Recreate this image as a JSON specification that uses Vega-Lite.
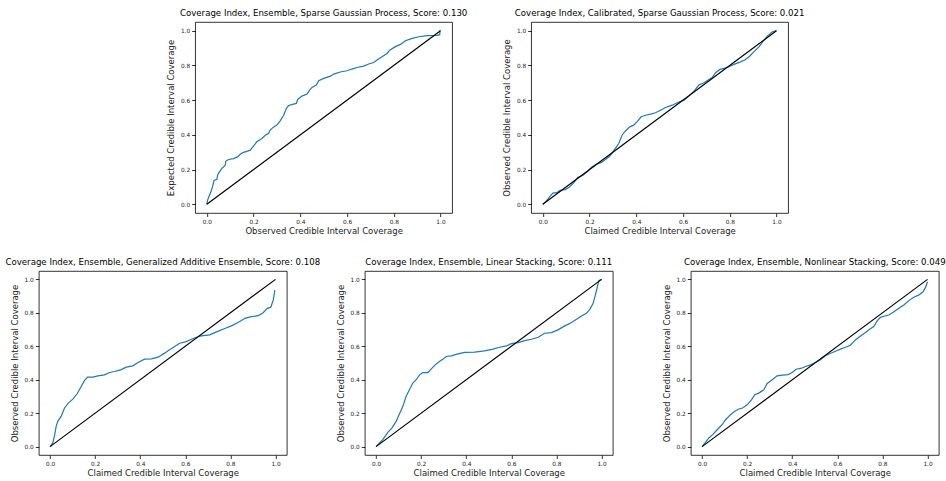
{
  "$schema": "https://vega.github.io/schema/vega-lite/v6.json",
  "padding": {"left": 4.5, "top": 9, "right": 0, "bottom": 0},
  "background": "white",
  "config": {
    "font": "DejaVu Sans",
    "view": {"stroke": "black", "strokeWidth": 0.8},
    "title": {"font": "DejaVu Sans", "fontSize": 8.6, "fontWeight": "normal", "color": "black", "offset": 4},
    "axis": {
      "grid": false, "domain": false, "tickColor": "black", "tickSize": 3.5, "tickWidth": 0.8, "labelOverlap": false,
      "labelFont": "DejaVu Sans", "labelFontSize": 5.8, "labelColor": "#222222", "labelPadding": 2,
      "titleFont": "DejaVu Sans", "titleFontSize": 8.5, "titleFontWeight": "normal", "titleColor": "#222222"
    },
    "axisX": {"titlePadding": 2},
    "axisY": {"titlePadding": 5}
  },
  "datasets": {
    "diag": [{"x": 0, "y": 0}, {"x": 1, "y": 1}],
    "curves": [
      {"p": 1, "x": 0, "y": 0}, {"p": 1, "x": 0.003, "y": 0.023}, {"p": 1, "x": 0.011, "y": 0.052}, {"p": 1, "x": 0.017, "y": 0.071}, {"p": 1, "x": 0.024, "y": 0.1}, {"p": 1, "x": 0.031, "y": 0.138}, {"p": 1, "x": 0.043, "y": 0.144}, {"p": 1, "x": 0.046, "y": 0.167}, {"p": 1, "x": 0.054, "y": 0.187}, {"p": 1, "x": 0.064, "y": 0.206}, {"p": 1, "x": 0.079, "y": 0.225}, {"p": 1, "x": 0.081, "y": 0.248}, {"p": 1, "x": 0.093, "y": 0.258}, {"p": 1, "x": 0.114, "y": 0.263}, {"p": 1, "x": 0.131, "y": 0.273}, {"p": 1, "x": 0.143, "y": 0.288}, {"p": 1, "x": 0.154, "y": 0.298}, {"p": 1, "x": 0.174, "y": 0.306}, {"p": 1, "x": 0.186, "y": 0.312}, {"p": 1, "x": 0.197, "y": 0.331}, {"p": 1, "x": 0.214, "y": 0.36}, {"p": 1, "x": 0.236, "y": 0.379}, {"p": 1, "x": 0.25, "y": 0.398}, {"p": 1, "x": 0.264, "y": 0.408}, {"p": 1, "x": 0.271, "y": 0.427}, {"p": 1, "x": 0.286, "y": 0.446}, {"p": 1, "x": 0.3, "y": 0.456}, {"p": 1, "x": 0.314, "y": 0.481}, {"p": 1, "x": 0.329, "y": 0.513}, {"p": 1, "x": 0.34, "y": 0.552}, {"p": 1, "x": 0.35, "y": 0.569}, {"p": 1, "x": 0.371, "y": 0.577}, {"p": 1, "x": 0.383, "y": 0.581}, {"p": 1, "x": 0.389, "y": 0.604}, {"p": 1, "x": 0.407, "y": 0.623}, {"p": 1, "x": 0.429, "y": 0.635}, {"p": 1, "x": 0.44, "y": 0.658}, {"p": 1, "x": 0.45, "y": 0.673}, {"p": 1, "x": 0.469, "y": 0.687}, {"p": 1, "x": 0.479, "y": 0.712}, {"p": 1, "x": 0.5, "y": 0.725}, {"p": 1, "x": 0.529, "y": 0.738}, {"p": 1, "x": 0.543, "y": 0.75}, {"p": 1, "x": 0.571, "y": 0.762}, {"p": 1, "x": 0.6, "y": 0.769}, {"p": 1, "x": 0.621, "y": 0.779}, {"p": 1, "x": 0.643, "y": 0.788}, {"p": 1, "x": 0.671, "y": 0.796}, {"p": 1, "x": 0.693, "y": 0.808}, {"p": 1, "x": 0.714, "y": 0.817}, {"p": 1, "x": 0.729, "y": 0.831}, {"p": 1, "x": 0.75, "y": 0.85}, {"p": 1, "x": 0.771, "y": 0.869}, {"p": 1, "x": 0.783, "y": 0.888}, {"p": 1, "x": 0.807, "y": 0.908}, {"p": 1, "x": 0.829, "y": 0.921}, {"p": 1, "x": 0.85, "y": 0.942}, {"p": 1, "x": 0.879, "y": 0.956}, {"p": 1, "x": 0.907, "y": 0.965}, {"p": 1, "x": 0.943, "y": 0.971}, {"p": 1, "x": 0.986, "y": 0.973}, {"p": 1, "x": 0.997, "y": 0.977}, {"p": 1, "x": 0.998, "y": 1.0}, {"p": 1, "x": 1, "y": 1},
      {"p": 2, "x": 0, "y": 0}, {"p": 2, "x": 0.017, "y": 0.023}, {"p": 2, "x": 0.031, "y": 0.046}, {"p": 2, "x": 0.043, "y": 0.065}, {"p": 2, "x": 0.06, "y": 0.067}, {"p": 2, "x": 0.074, "y": 0.081}, {"p": 2, "x": 0.096, "y": 0.085}, {"p": 2, "x": 0.114, "y": 0.1}, {"p": 2, "x": 0.132, "y": 0.123}, {"p": 2, "x": 0.149, "y": 0.154}, {"p": 2, "x": 0.172, "y": 0.167}, {"p": 2, "x": 0.189, "y": 0.187}, {"p": 2, "x": 0.21, "y": 0.215}, {"p": 2, "x": 0.229, "y": 0.231}, {"p": 2, "x": 0.249, "y": 0.24}, {"p": 2, "x": 0.268, "y": 0.258}, {"p": 2, "x": 0.286, "y": 0.277}, {"p": 2, "x": 0.3, "y": 0.302}, {"p": 2, "x": 0.315, "y": 0.331}, {"p": 2, "x": 0.325, "y": 0.35}, {"p": 2, "x": 0.339, "y": 0.398}, {"p": 2, "x": 0.353, "y": 0.421}, {"p": 2, "x": 0.372, "y": 0.446}, {"p": 2, "x": 0.389, "y": 0.456}, {"p": 2, "x": 0.403, "y": 0.475}, {"p": 2, "x": 0.421, "y": 0.504}, {"p": 2, "x": 0.439, "y": 0.513}, {"p": 2, "x": 0.461, "y": 0.519}, {"p": 2, "x": 0.482, "y": 0.527}, {"p": 2, "x": 0.504, "y": 0.542}, {"p": 2, "x": 0.525, "y": 0.558}, {"p": 2, "x": 0.554, "y": 0.571}, {"p": 2, "x": 0.575, "y": 0.585}, {"p": 2, "x": 0.604, "y": 0.6}, {"p": 2, "x": 0.625, "y": 0.623}, {"p": 2, "x": 0.647, "y": 0.652}, {"p": 2, "x": 0.668, "y": 0.687}, {"p": 2, "x": 0.69, "y": 0.7}, {"p": 2, "x": 0.711, "y": 0.719}, {"p": 2, "x": 0.725, "y": 0.731}, {"p": 2, "x": 0.74, "y": 0.758}, {"p": 2, "x": 0.758, "y": 0.777}, {"p": 2, "x": 0.775, "y": 0.783}, {"p": 2, "x": 0.797, "y": 0.792}, {"p": 2, "x": 0.818, "y": 0.806}, {"p": 2, "x": 0.844, "y": 0.819}, {"p": 2, "x": 0.864, "y": 0.831}, {"p": 2, "x": 0.883, "y": 0.85}, {"p": 2, "x": 0.904, "y": 0.879}, {"p": 2, "x": 0.926, "y": 0.908}, {"p": 2, "x": 0.944, "y": 0.942}, {"p": 2, "x": 0.961, "y": 0.969}, {"p": 2, "x": 0.983, "y": 0.994}, {"p": 2, "x": 1, "y": 1},
      {"p": 3, "x": 0, "y": 0}, {"p": 3, "x": 0.012, "y": 0.022}, {"p": 3, "x": 0.019, "y": 0.062}, {"p": 3, "x": 0.027, "y": 0.121}, {"p": 3, "x": 0.034, "y": 0.151}, {"p": 3, "x": 0.049, "y": 0.181}, {"p": 3, "x": 0.064, "y": 0.231}, {"p": 3, "x": 0.081, "y": 0.26}, {"p": 3, "x": 0.101, "y": 0.284}, {"p": 3, "x": 0.12, "y": 0.316}, {"p": 3, "x": 0.138, "y": 0.36}, {"p": 3, "x": 0.153, "y": 0.396}, {"p": 3, "x": 0.167, "y": 0.416}, {"p": 3, "x": 0.19, "y": 0.416}, {"p": 3, "x": 0.212, "y": 0.423}, {"p": 3, "x": 0.241, "y": 0.429}, {"p": 3, "x": 0.264, "y": 0.443}, {"p": 3, "x": 0.286, "y": 0.449}, {"p": 3, "x": 0.313, "y": 0.459}, {"p": 3, "x": 0.338, "y": 0.475}, {"p": 3, "x": 0.367, "y": 0.483}, {"p": 3, "x": 0.39, "y": 0.503}, {"p": 3, "x": 0.419, "y": 0.523}, {"p": 3, "x": 0.449, "y": 0.525}, {"p": 3, "x": 0.479, "y": 0.535}, {"p": 3, "x": 0.508, "y": 0.559}, {"p": 3, "x": 0.53, "y": 0.579}, {"p": 3, "x": 0.553, "y": 0.598}, {"p": 3, "x": 0.575, "y": 0.618}, {"p": 3, "x": 0.604, "y": 0.628}, {"p": 3, "x": 0.627, "y": 0.642}, {"p": 3, "x": 0.649, "y": 0.654}, {"p": 3, "x": 0.671, "y": 0.662}, {"p": 3, "x": 0.708, "y": 0.668}, {"p": 3, "x": 0.738, "y": 0.686}, {"p": 3, "x": 0.775, "y": 0.706}, {"p": 3, "x": 0.804, "y": 0.722}, {"p": 3, "x": 0.834, "y": 0.742}, {"p": 3, "x": 0.864, "y": 0.767}, {"p": 3, "x": 0.893, "y": 0.777}, {"p": 3, "x": 0.923, "y": 0.783}, {"p": 3, "x": 0.945, "y": 0.801}, {"p": 3, "x": 0.964, "y": 0.827}, {"p": 3, "x": 0.979, "y": 0.833}, {"p": 3, "x": 0.99, "y": 0.877}, {"p": 3, "x": 0.997, "y": 0.936},
      {"p": 4, "x": 0, "y": 0}, {"p": 4, "x": 0.015, "y": 0.022}, {"p": 4, "x": 0.03, "y": 0.042}, {"p": 4, "x": 0.052, "y": 0.085}, {"p": 4, "x": 0.07, "y": 0.111}, {"p": 4, "x": 0.089, "y": 0.151}, {"p": 4, "x": 0.104, "y": 0.197}, {"p": 4, "x": 0.119, "y": 0.241}, {"p": 4, "x": 0.133, "y": 0.3}, {"p": 4, "x": 0.148, "y": 0.34}, {"p": 4, "x": 0.163, "y": 0.38}, {"p": 4, "x": 0.178, "y": 0.4}, {"p": 4, "x": 0.193, "y": 0.429}, {"p": 4, "x": 0.207, "y": 0.443}, {"p": 4, "x": 0.23, "y": 0.443}, {"p": 4, "x": 0.244, "y": 0.463}, {"p": 4, "x": 0.262, "y": 0.489}, {"p": 4, "x": 0.281, "y": 0.509}, {"p": 4, "x": 0.296, "y": 0.523}, {"p": 4, "x": 0.311, "y": 0.539}, {"p": 4, "x": 0.333, "y": 0.543}, {"p": 4, "x": 0.363, "y": 0.555}, {"p": 4, "x": 0.393, "y": 0.563}, {"p": 4, "x": 0.437, "y": 0.565}, {"p": 4, "x": 0.481, "y": 0.573}, {"p": 4, "x": 0.519, "y": 0.583}, {"p": 4, "x": 0.548, "y": 0.594}, {"p": 4, "x": 0.578, "y": 0.602}, {"p": 4, "x": 0.6, "y": 0.616}, {"p": 4, "x": 0.63, "y": 0.622}, {"p": 4, "x": 0.659, "y": 0.634}, {"p": 4, "x": 0.689, "y": 0.642}, {"p": 4, "x": 0.719, "y": 0.654}, {"p": 4, "x": 0.748, "y": 0.678}, {"p": 4, "x": 0.778, "y": 0.682}, {"p": 4, "x": 0.807, "y": 0.698}, {"p": 4, "x": 0.837, "y": 0.722}, {"p": 4, "x": 0.867, "y": 0.742}, {"p": 4, "x": 0.889, "y": 0.761}, {"p": 4, "x": 0.911, "y": 0.781}, {"p": 4, "x": 0.933, "y": 0.797}, {"p": 4, "x": 0.948, "y": 0.821}, {"p": 4, "x": 0.963, "y": 0.857}, {"p": 4, "x": 0.978, "y": 0.936}, {"p": 4, "x": 0.988, "y": 0.992}, {"p": 4, "x": 1, "y": 1},
      {"p": 5, "x": 0, "y": 0}, {"p": 5, "x": 0.015, "y": 0.026}, {"p": 5, "x": 0.03, "y": 0.052}, {"p": 5, "x": 0.047, "y": 0.072}, {"p": 5, "x": 0.067, "y": 0.101}, {"p": 5, "x": 0.089, "y": 0.131}, {"p": 5, "x": 0.104, "y": 0.161}, {"p": 5, "x": 0.126, "y": 0.191}, {"p": 5, "x": 0.145, "y": 0.211}, {"p": 5, "x": 0.163, "y": 0.225}, {"p": 5, "x": 0.18, "y": 0.231}, {"p": 5, "x": 0.2, "y": 0.25}, {"p": 5, "x": 0.219, "y": 0.28}, {"p": 5, "x": 0.234, "y": 0.31}, {"p": 5, "x": 0.251, "y": 0.32}, {"p": 5, "x": 0.274, "y": 0.34}, {"p": 5, "x": 0.288, "y": 0.376}, {"p": 5, "x": 0.311, "y": 0.4}, {"p": 5, "x": 0.333, "y": 0.423}, {"p": 5, "x": 0.355, "y": 0.427}, {"p": 5, "x": 0.382, "y": 0.431}, {"p": 5, "x": 0.4, "y": 0.443}, {"p": 5, "x": 0.417, "y": 0.463}, {"p": 5, "x": 0.441, "y": 0.469}, {"p": 5, "x": 0.459, "y": 0.479}, {"p": 5, "x": 0.481, "y": 0.489}, {"p": 5, "x": 0.503, "y": 0.503}, {"p": 5, "x": 0.525, "y": 0.519}, {"p": 5, "x": 0.547, "y": 0.543}, {"p": 5, "x": 0.565, "y": 0.555}, {"p": 5, "x": 0.589, "y": 0.569}, {"p": 5, "x": 0.614, "y": 0.583}, {"p": 5, "x": 0.636, "y": 0.594}, {"p": 5, "x": 0.658, "y": 0.606}, {"p": 5, "x": 0.68, "y": 0.638}, {"p": 5, "x": 0.703, "y": 0.662}, {"p": 5, "x": 0.725, "y": 0.682}, {"p": 5, "x": 0.743, "y": 0.702}, {"p": 5, "x": 0.762, "y": 0.718}, {"p": 5, "x": 0.777, "y": 0.753}, {"p": 5, "x": 0.791, "y": 0.773}, {"p": 5, "x": 0.811, "y": 0.781}, {"p": 5, "x": 0.828, "y": 0.787}, {"p": 5, "x": 0.851, "y": 0.807}, {"p": 5, "x": 0.873, "y": 0.827}, {"p": 5, "x": 0.895, "y": 0.847}, {"p": 5, "x": 0.917, "y": 0.873}, {"p": 5, "x": 0.939, "y": 0.893}, {"p": 5, "x": 0.962, "y": 0.907}, {"p": 5, "x": 0.98, "y": 0.926}, {"p": 5, "x": 0.991, "y": 0.952}, {"p": 5, "x": 1, "y": 0.986}
    ]
  },
  "vconcat": [
    {
      "hconcat": [
        {
          "width": 257, "height": 191,
          "title": "Coverage Index, Ensemble, Sparse Gaussian Process, Score: 0.130",
          "encoding": {
            "x": {"field": "x", "type": "quantitative", "scale": {"domain": [-0.05, 1.05], "nice": false, "zero": false}, "axis": {"values": [0, 0.2, 0.4, 0.6, 0.8, 1], "format": ".1f", "title": "Observed Credible Interval Coverage"}},
            "y": {"field": "y", "type": "quantitative", "scale": {"domain": [-0.05, 1.05], "nice": false, "zero": false}, "axis": {"values": [0, 0.2, 0.4, 0.6, 0.8, 1], "format": ".1f", "title": "Expected Credible Interval Coverage"}}
          },
          "layer": [
            {"data": {"name": "curves"}, "transform": [{"filter": "datum.p == 1"}], "mark": {"type": "line", "color": "#1f77b4", "strokeWidth": 1.2}},
            {"data": {"name": "diag"}, "mark": {"type": "line", "color": "black", "strokeWidth": 1.2}}
          ]
        },
        {
          "width": 257, "height": 191,
          "title": "Coverage Index, Calibrated, Sparse Gaussian Process, Score: 0.021",
          "encoding": {
            "x": {"field": "x", "type": "quantitative", "scale": {"domain": [-0.05, 1.05], "nice": false, "zero": false}, "axis": {"values": [0, 0.2, 0.4, 0.6, 0.8, 1], "format": ".1f", "title": "Claimed Credible Interval Coverage"}},
            "y": {"field": "y", "type": "quantitative", "scale": {"domain": [-0.05, 1.05], "nice": false, "zero": false}, "axis": {"values": [0, 0.2, 0.4, 0.6, 0.8, 1], "format": ".1f", "title": "Observed Credible Interval Coverage"}}
          },
          "layer": [
            {"data": {"name": "curves"}, "transform": [{"filter": "datum.p == 2"}], "mark": {"type": "line", "color": "#1f77b4", "strokeWidth": 1.2}},
            {"data": {"name": "diag"}, "mark": {"type": "line", "color": "black", "strokeWidth": 1.2}}
          ]
        }
      ],
      "spacing": 79,
      "bounds": "flush"
    },
    {
      "hconcat": [
        {
          "width": 248, "height": 184,
          "title": "Coverage Index, Ensemble, Generalized Additive Ensemble, Score: 0.108",
          "encoding": {
            "x": {"field": "x", "type": "quantitative", "scale": {"domain": [-0.05, 1.05], "nice": false, "zero": false}, "axis": {"values": [0, 0.2, 0.4, 0.6, 0.8, 1], "format": ".1f", "title": "Claimed Credible Interval Coverage"}},
            "y": {"field": "y", "type": "quantitative", "scale": {"domain": [-0.05, 1.05], "nice": false, "zero": false}, "axis": {"values": [0, 0.2, 0.4, 0.6, 0.8, 1], "format": ".1f", "title": "Observed Credible Interval Coverage"}}
          },
          "layer": [
            {"data": {"name": "curves"}, "transform": [{"filter": "datum.p == 3"}], "mark": {"type": "line", "color": "#1f77b4", "strokeWidth": 1.2}},
            {"data": {"name": "diag"}, "mark": {"type": "line", "color": "black", "strokeWidth": 1.2}}
          ]
        },
        {
          "width": 248, "height": 184,
          "title": "Coverage Index, Ensemble, Linear Stacking, Score: 0.111",
          "encoding": {
            "x": {"field": "x", "type": "quantitative", "scale": {"domain": [-0.05, 1.05], "nice": false, "zero": false}, "axis": {"values": [0, 0.2, 0.4, 0.6, 0.8, 1], "format": ".1f", "title": "Claimed Credible Interval Coverage"}},
            "y": {"field": "y", "type": "quantitative", "scale": {"domain": [-0.05, 1.05], "nice": false, "zero": false}, "axis": {"values": [0, 0.2, 0.4, 0.6, 0.8, 1], "format": ".1f", "title": "Observed Credible Interval Coverage"}}
          },
          "layer": [
            {"data": {"name": "curves"}, "transform": [{"filter": "datum.p == 4"}], "mark": {"type": "line", "color": "#1f77b4", "strokeWidth": 1.2}},
            {"data": {"name": "diag"}, "mark": {"type": "line", "color": "black", "strokeWidth": 1.2}}
          ]
        },
        {
          "width": 248, "height": 184,
          "title": "Coverage Index, Ensemble, Nonlinear Stacking, Score: 0.049",
          "layer": [
            {"data": {"name": "curves"}, "transform": [{"filter": "datum.p == 5"}], "mark": {"type": "line", "color": "#1f77b4", "strokeWidth": 1.2},
             "encoding": {
               "x": {"field": "x", "type": "quantitative", "scale": {"domain": [-0.05, 1.05], "nice": false, "zero": false}, "axis": {"values": [0, 0.2, 0.4, 0.6, 0.8, 1], "format": ".1f", "title": "Claimed Credible Interval Coverage"}},
               "y": {"field": "y", "type": "quantitative", "scale": {"domain": [-0.05, 1.05], "nice": false, "zero": false}, "axis": {"values": [0, 0.2, 0.4, 0.6, 0.8, 1], "format": ".1f", "title": "Observed Credible Interval Coverage", "orient": "left"}}
             }},
            {"data": {"name": "diag"}, "mark": {"type": "line", "color": "black", "strokeWidth": 1.2},
             "encoding": {
               "x": {"field": "x", "type": "quantitative"},
               "y": {"field": "y", "type": "quantitative", "axis": {"orient": "right", "labels": false, "ticks": false, "domain": false, "title": "x", "titleColor": "transparent", "titlePadding": 13}}
             }}
          ],
          "resolve": {"axis": {"y": "independent"}}
        }
      ],
      "spacing": 78,
      "bounds": "flush"
    }
  ],
  "spacing": 22,
  "center": true,
  "bounds": "full"
}
